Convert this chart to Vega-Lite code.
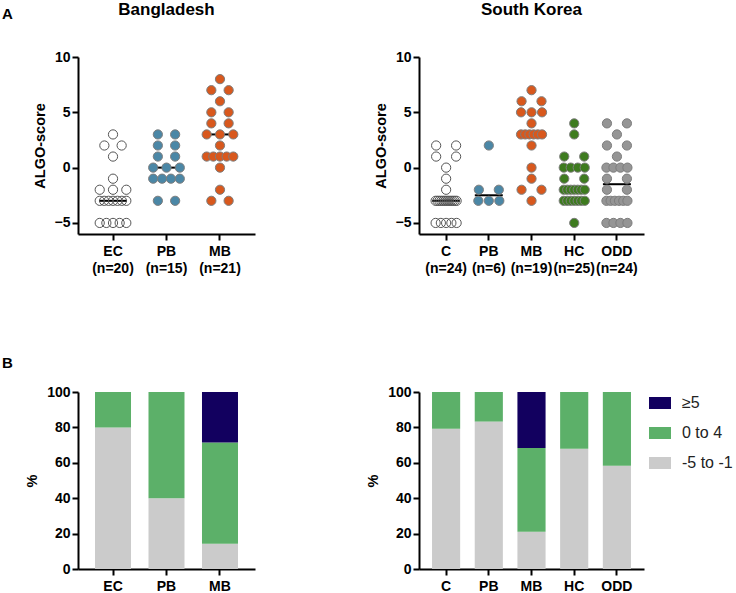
{
"$schema": "https://vega.github.io/schema/vega-lite/v6.json",
"padding": {"left": 1, "top": 1, "right": 0, "bottom": 0},
"title": {"text": "A", "anchor": "start", "frame": "bounds", "offset": -21, "baseline": "top", "fontSize": 15, "fontWeight": "bold", "color": "black"},
"datasets": {
"dots": [
{"country":"Bangladesh","group":"EC","xlab":"EC|(n=20)","score":3,"slot":0},
{"country":"Bangladesh","group":"EC","xlab":"EC|(n=20)","score":2,"slot":-0.65},
{"country":"Bangladesh","group":"EC","xlab":"EC|(n=20)","score":2,"slot":0.65},
{"country":"Bangladesh","group":"EC","xlab":"EC|(n=20)","score":1,"slot":0},
{"country":"Bangladesh","group":"EC","xlab":"EC|(n=20)","score":-1,"slot":0},
{"country":"Bangladesh","group":"EC","xlab":"EC|(n=20)","score":-2,"slot":-1},
{"country":"Bangladesh","group":"EC","xlab":"EC|(n=20)","score":-2,"slot":0},
{"country":"Bangladesh","group":"EC","xlab":"EC|(n=20)","score":-2,"slot":1},
{"country":"Bangladesh","group":"EC","xlab":"EC|(n=20)","score":-3,"slot":-1},
{"country":"Bangladesh","group":"EC","xlab":"EC|(n=20)","score":-3,"slot":-0.667},
{"country":"Bangladesh","group":"EC","xlab":"EC|(n=20)","score":-3,"slot":-0.333},
{"country":"Bangladesh","group":"EC","xlab":"EC|(n=20)","score":-3,"slot":0},
{"country":"Bangladesh","group":"EC","xlab":"EC|(n=20)","score":-3,"slot":0.333},
{"country":"Bangladesh","group":"EC","xlab":"EC|(n=20)","score":-3,"slot":0.667},
{"country":"Bangladesh","group":"EC","xlab":"EC|(n=20)","score":-3,"slot":1},
{"country":"Bangladesh","group":"EC","xlab":"EC|(n=20)","score":-5,"slot":-1},
{"country":"Bangladesh","group":"EC","xlab":"EC|(n=20)","score":-5,"slot":-0.5},
{"country":"Bangladesh","group":"EC","xlab":"EC|(n=20)","score":-5,"slot":0},
{"country":"Bangladesh","group":"EC","xlab":"EC|(n=20)","score":-5,"slot":0.5},
{"country":"Bangladesh","group":"EC","xlab":"EC|(n=20)","score":-5,"slot":1},
{"country":"Bangladesh","group":"PB","xlab":"PB|(n=15)","score":3,"slot":-0.65},
{"country":"Bangladesh","group":"PB","xlab":"PB|(n=15)","score":3,"slot":0.65},
{"country":"Bangladesh","group":"PB","xlab":"PB|(n=15)","score":2,"slot":-0.65},
{"country":"Bangladesh","group":"PB","xlab":"PB|(n=15)","score":2,"slot":0.65},
{"country":"Bangladesh","group":"PB","xlab":"PB|(n=15)","score":1,"slot":-0.65},
{"country":"Bangladesh","group":"PB","xlab":"PB|(n=15)","score":1,"slot":0.65},
{"country":"Bangladesh","group":"PB","xlab":"PB|(n=15)","score":0,"slot":-1},
{"country":"Bangladesh","group":"PB","xlab":"PB|(n=15)","score":0,"slot":0},
{"country":"Bangladesh","group":"PB","xlab":"PB|(n=15)","score":0,"slot":1},
{"country":"Bangladesh","group":"PB","xlab":"PB|(n=15)","score":-1,"slot":-1},
{"country":"Bangladesh","group":"PB","xlab":"PB|(n=15)","score":-1,"slot":-0.333},
{"country":"Bangladesh","group":"PB","xlab":"PB|(n=15)","score":-1,"slot":0.333},
{"country":"Bangladesh","group":"PB","xlab":"PB|(n=15)","score":-1,"slot":1},
{"country":"Bangladesh","group":"PB","xlab":"PB|(n=15)","score":-3,"slot":-0.65},
{"country":"Bangladesh","group":"PB","xlab":"PB|(n=15)","score":-3,"slot":0.65},
{"country":"Bangladesh","group":"MB","xlab":"MB|(n=21)","score":8,"slot":0},
{"country":"Bangladesh","group":"MB","xlab":"MB|(n=21)","score":7,"slot":-0.65},
{"country":"Bangladesh","group":"MB","xlab":"MB|(n=21)","score":7,"slot":0.65},
{"country":"Bangladesh","group":"MB","xlab":"MB|(n=21)","score":6,"slot":0},
{"country":"Bangladesh","group":"MB","xlab":"MB|(n=21)","score":5,"slot":-0.65},
{"country":"Bangladesh","group":"MB","xlab":"MB|(n=21)","score":5,"slot":0.65},
{"country":"Bangladesh","group":"MB","xlab":"MB|(n=21)","score":4,"slot":-0.65},
{"country":"Bangladesh","group":"MB","xlab":"MB|(n=21)","score":4,"slot":0.65},
{"country":"Bangladesh","group":"MB","xlab":"MB|(n=21)","score":3,"slot":-1},
{"country":"Bangladesh","group":"MB","xlab":"MB|(n=21)","score":3,"slot":0},
{"country":"Bangladesh","group":"MB","xlab":"MB|(n=21)","score":3,"slot":1},
{"country":"Bangladesh","group":"MB","xlab":"MB|(n=21)","score":2,"slot":0},
{"country":"Bangladesh","group":"MB","xlab":"MB|(n=21)","score":1,"slot":-1},
{"country":"Bangladesh","group":"MB","xlab":"MB|(n=21)","score":1,"slot":-0.5},
{"country":"Bangladesh","group":"MB","xlab":"MB|(n=21)","score":1,"slot":0},
{"country":"Bangladesh","group":"MB","xlab":"MB|(n=21)","score":1,"slot":0.5},
{"country":"Bangladesh","group":"MB","xlab":"MB|(n=21)","score":1,"slot":1},
{"country":"Bangladesh","group":"MB","xlab":"MB|(n=21)","score":0,"slot":0},
{"country":"Bangladesh","group":"MB","xlab":"MB|(n=21)","score":-2,"slot":0},
{"country":"Bangladesh","group":"MB","xlab":"MB|(n=21)","score":-3,"slot":-0.65},
{"country":"Bangladesh","group":"MB","xlab":"MB|(n=21)","score":-3,"slot":0.65},
{"country":"South Korea","group":"C","xlab":"C|(n=24)","score":2,"slot":-0.95},
{"country":"South Korea","group":"C","xlab":"C|(n=24)","score":2,"slot":0.95},
{"country":"South Korea","group":"C","xlab":"C|(n=24)","score":1,"slot":-0.95},
{"country":"South Korea","group":"C","xlab":"C|(n=24)","score":1,"slot":0.95},
{"country":"South Korea","group":"C","xlab":"C|(n=24)","score":0,"slot":0},
{"country":"South Korea","group":"C","xlab":"C|(n=24)","score":-1,"slot":0},
{"country":"South Korea","group":"C","xlab":"C|(n=24)","score":-2,"slot":0},
{"country":"South Korea","group":"C","xlab":"C|(n=24)","score":-3,"slot":-1},
{"country":"South Korea","group":"C","xlab":"C|(n=24)","score":-3,"slot":-0.818},
{"country":"South Korea","group":"C","xlab":"C|(n=24)","score":-3,"slot":-0.636},
{"country":"South Korea","group":"C","xlab":"C|(n=24)","score":-3,"slot":-0.455},
{"country":"South Korea","group":"C","xlab":"C|(n=24)","score":-3,"slot":-0.273},
{"country":"South Korea","group":"C","xlab":"C|(n=24)","score":-3,"slot":-0.091},
{"country":"South Korea","group":"C","xlab":"C|(n=24)","score":-3,"slot":0.091},
{"country":"South Korea","group":"C","xlab":"C|(n=24)","score":-3,"slot":0.273},
{"country":"South Korea","group":"C","xlab":"C|(n=24)","score":-3,"slot":0.455},
{"country":"South Korea","group":"C","xlab":"C|(n=24)","score":-3,"slot":0.636},
{"country":"South Korea","group":"C","xlab":"C|(n=24)","score":-3,"slot":0.818},
{"country":"South Korea","group":"C","xlab":"C|(n=24)","score":-3,"slot":1},
{"country":"South Korea","group":"C","xlab":"C|(n=24)","score":-5,"slot":-1},
{"country":"South Korea","group":"C","xlab":"C|(n=24)","score":-5,"slot":-0.5},
{"country":"South Korea","group":"C","xlab":"C|(n=24)","score":-5,"slot":0},
{"country":"South Korea","group":"C","xlab":"C|(n=24)","score":-5,"slot":0.5},
{"country":"South Korea","group":"C","xlab":"C|(n=24)","score":-5,"slot":1},
{"country":"South Korea","group":"PB","xlab":"PB|(n=6)","score":2,"slot":0},
{"country":"South Korea","group":"PB","xlab":"PB|(n=6)","score":-2,"slot":-0.95},
{"country":"South Korea","group":"PB","xlab":"PB|(n=6)","score":-2,"slot":0.95},
{"country":"South Korea","group":"PB","xlab":"PB|(n=6)","score":-3,"slot":-1},
{"country":"South Korea","group":"PB","xlab":"PB|(n=6)","score":-3,"slot":0},
{"country":"South Korea","group":"PB","xlab":"PB|(n=6)","score":-3,"slot":1},
{"country":"South Korea","group":"MB","xlab":"MB|(n=19)","score":7,"slot":0},
{"country":"South Korea","group":"MB","xlab":"MB|(n=19)","score":6,"slot":-0.95},
{"country":"South Korea","group":"MB","xlab":"MB|(n=19)","score":6,"slot":0.95},
{"country":"South Korea","group":"MB","xlab":"MB|(n=19)","score":5,"slot":-1},
{"country":"South Korea","group":"MB","xlab":"MB|(n=19)","score":5,"slot":0},
{"country":"South Korea","group":"MB","xlab":"MB|(n=19)","score":5,"slot":1},
{"country":"South Korea","group":"MB","xlab":"MB|(n=19)","score":4,"slot":0},
{"country":"South Korea","group":"MB","xlab":"MB|(n=19)","score":3,"slot":-1},
{"country":"South Korea","group":"MB","xlab":"MB|(n=19)","score":3,"slot":-0.6},
{"country":"South Korea","group":"MB","xlab":"MB|(n=19)","score":3,"slot":-0.2},
{"country":"South Korea","group":"MB","xlab":"MB|(n=19)","score":3,"slot":0.2},
{"country":"South Korea","group":"MB","xlab":"MB|(n=19)","score":3,"slot":0.6},
{"country":"South Korea","group":"MB","xlab":"MB|(n=19)","score":3,"slot":1},
{"country":"South Korea","group":"MB","xlab":"MB|(n=19)","score":2,"slot":0},
{"country":"South Korea","group":"MB","xlab":"MB|(n=19)","score":0,"slot":0},
{"country":"South Korea","group":"MB","xlab":"MB|(n=19)","score":-1,"slot":0},
{"country":"South Korea","group":"MB","xlab":"MB|(n=19)","score":-2,"slot":-0.95},
{"country":"South Korea","group":"MB","xlab":"MB|(n=19)","score":-2,"slot":0.95},
{"country":"South Korea","group":"MB","xlab":"MB|(n=19)","score":-3,"slot":0},
{"country":"South Korea","group":"HC","xlab":"HC|(n=25)","score":4,"slot":0},
{"country":"South Korea","group":"HC","xlab":"HC|(n=25)","score":3,"slot":0},
{"country":"South Korea","group":"HC","xlab":"HC|(n=25)","score":1,"slot":-0.95},
{"country":"South Korea","group":"HC","xlab":"HC|(n=25)","score":1,"slot":0.95},
{"country":"South Korea","group":"HC","xlab":"HC|(n=25)","score":0,"slot":-1},
{"country":"South Korea","group":"HC","xlab":"HC|(n=25)","score":0,"slot":-0.333},
{"country":"South Korea","group":"HC","xlab":"HC|(n=25)","score":0,"slot":0.333},
{"country":"South Korea","group":"HC","xlab":"HC|(n=25)","score":0,"slot":1},
{"country":"South Korea","group":"HC","xlab":"HC|(n=25)","score":-1,"slot":-0.95},
{"country":"South Korea","group":"HC","xlab":"HC|(n=25)","score":-1,"slot":0.95},
{"country":"South Korea","group":"HC","xlab":"HC|(n=25)","score":-2,"slot":-1},
{"country":"South Korea","group":"HC","xlab":"HC|(n=25)","score":-2,"slot":-0.667},
{"country":"South Korea","group":"HC","xlab":"HC|(n=25)","score":-2,"slot":-0.333},
{"country":"South Korea","group":"HC","xlab":"HC|(n=25)","score":-2,"slot":0},
{"country":"South Korea","group":"HC","xlab":"HC|(n=25)","score":-2,"slot":0.333},
{"country":"South Korea","group":"HC","xlab":"HC|(n=25)","score":-2,"slot":0.667},
{"country":"South Korea","group":"HC","xlab":"HC|(n=25)","score":-2,"slot":1},
{"country":"South Korea","group":"HC","xlab":"HC|(n=25)","score":-3,"slot":-1},
{"country":"South Korea","group":"HC","xlab":"HC|(n=25)","score":-3,"slot":-0.667},
{"country":"South Korea","group":"HC","xlab":"HC|(n=25)","score":-3,"slot":-0.333},
{"country":"South Korea","group":"HC","xlab":"HC|(n=25)","score":-3,"slot":0},
{"country":"South Korea","group":"HC","xlab":"HC|(n=25)","score":-3,"slot":0.333},
{"country":"South Korea","group":"HC","xlab":"HC|(n=25)","score":-3,"slot":0.667},
{"country":"South Korea","group":"HC","xlab":"HC|(n=25)","score":-3,"slot":1},
{"country":"South Korea","group":"HC","xlab":"HC|(n=25)","score":-5,"slot":0},
{"country":"South Korea","group":"ODD","xlab":"ODD|(n=24)","score":4,"slot":-0.95},
{"country":"South Korea","group":"ODD","xlab":"ODD|(n=24)","score":4,"slot":0.95},
{"country":"South Korea","group":"ODD","xlab":"ODD|(n=24)","score":3,"slot":0},
{"country":"South Korea","group":"ODD","xlab":"ODD|(n=24)","score":2,"slot":-0.95},
{"country":"South Korea","group":"ODD","xlab":"ODD|(n=24)","score":2,"slot":0.95},
{"country":"South Korea","group":"ODD","xlab":"ODD|(n=24)","score":1,"slot":0},
{"country":"South Korea","group":"ODD","xlab":"ODD|(n=24)","score":0,"slot":-1},
{"country":"South Korea","group":"ODD","xlab":"ODD|(n=24)","score":0,"slot":-0.333},
{"country":"South Korea","group":"ODD","xlab":"ODD|(n=24)","score":0,"slot":0.333},
{"country":"South Korea","group":"ODD","xlab":"ODD|(n=24)","score":0,"slot":1},
{"country":"South Korea","group":"ODD","xlab":"ODD|(n=24)","score":-1,"slot":-0.95},
{"country":"South Korea","group":"ODD","xlab":"ODD|(n=24)","score":-1,"slot":0.95},
{"country":"South Korea","group":"ODD","xlab":"ODD|(n=24)","score":-2,"slot":-0.95},
{"country":"South Korea","group":"ODD","xlab":"ODD|(n=24)","score":-2,"slot":0.95},
{"country":"South Korea","group":"ODD","xlab":"ODD|(n=24)","score":-3,"slot":-1},
{"country":"South Korea","group":"ODD","xlab":"ODD|(n=24)","score":-3,"slot":-0.6},
{"country":"South Korea","group":"ODD","xlab":"ODD|(n=24)","score":-3,"slot":-0.2},
{"country":"South Korea","group":"ODD","xlab":"ODD|(n=24)","score":-3,"slot":0.2},
{"country":"South Korea","group":"ODD","xlab":"ODD|(n=24)","score":-3,"slot":0.6},
{"country":"South Korea","group":"ODD","xlab":"ODD|(n=24)","score":-3,"slot":1},
{"country":"South Korea","group":"ODD","xlab":"ODD|(n=24)","score":-5,"slot":-1},
{"country":"South Korea","group":"ODD","xlab":"ODD|(n=24)","score":-5,"slot":-0.333},
{"country":"South Korea","group":"ODD","xlab":"ODD|(n=24)","score":-5,"slot":0.333},
{"country":"South Korea","group":"ODD","xlab":"ODD|(n=24)","score":-5,"slot":1}
],
"bars": [
{"country":"Bangladesh","group":"EC","level":"-5 to -1","pct":80},
{"country":"Bangladesh","group":"EC","level":"0 to 4","pct":20},
{"country":"Bangladesh","group":"PB","level":"-5 to -1","pct":40},
{"country":"Bangladesh","group":"PB","level":"0 to 4","pct":60},
{"country":"Bangladesh","group":"MB","level":"-5 to -1","pct":14.3},
{"country":"Bangladesh","group":"MB","level":"0 to 4","pct":57.1},
{"country":"Bangladesh","group":"MB","level":"≥5","pct":28.6},
{"country":"South Korea","group":"C","level":"-5 to -1","pct":79.2},
{"country":"South Korea","group":"C","level":"0 to 4","pct":20.8},
{"country":"South Korea","group":"PB","level":"-5 to -1","pct":83.3},
{"country":"South Korea","group":"PB","level":"0 to 4","pct":16.7},
{"country":"South Korea","group":"MB","level":"-5 to -1","pct":21.05},
{"country":"South Korea","group":"MB","level":"0 to 4","pct":47.37},
{"country":"South Korea","group":"MB","level":"≥5","pct":31.58},
{"country":"South Korea","group":"HC","level":"-5 to -1","pct":68},
{"country":"South Korea","group":"HC","level":"0 to 4","pct":32},
{"country":"South Korea","group":"ODD","level":"-5 to -1","pct":58.3},
{"country":"South Korea","group":"ODD","level":"0 to 4","pct":41.7}
]
},
"columns": 2,
"spacing": {"column": 110, "row": 81},
"resolve": {"scale": {"x": "independent", "y": "independent", "xOffset": "independent", "color": "independent"}, "axis": {"x": "independent", "y": "independent"}, "legend": {"color": "independent"}},
"concat": [
{
"width": 177, "height": 177,
"title": {"text": "Bangladesh", "anchor": "middle", "frame": "group", "offset": 31},
"data": {"name": "dots"},
"transform": [{"filter": "datum.country === 'Bangladesh'"}],
"layer": [
{"mark": {"type": "tick", "color": "black", "thickness": 2, "size": 28},
"encoding": {
"x": {"field": "xlab", "type": "nominal", "sort": null, "scale": {"domain": ["EC|(n=20)", "PB|(n=15)", "MB|(n=21)"], "paddingInner": 0.327, "paddingOuter": 0.318}, "axis": {"labelExpr": "split(datum.value, '|')", "labelLineHeight": 17, "title": null}},
"y": {"aggregate": "median", "field": "score", "type": "quantitative", "scale": {"domain": [-6, 10], "nice": false, "zero": false}, "axis": {"values": [-5, 0, 5, 10], "title": "ALGO-score"}}}},
{"mark": {"type": "point", "shape": "circle", "size": 85, "strokeWidth": 1, "opacity": 1},
"encoding": {
"x": {"field": "xlab", "type": "nominal", "sort": null, "axis": {"labelExpr": "split(datum.value, '|')", "labelLineHeight": 17, "title": null}},
"xOffset": {"field": "slot", "type": "quantitative", "scale": {"domain": [-1, 1], "range": [4.7, 31.3]}},
"y": {"field": "score", "type": "quantitative", "axis": {"values": [-5, 0, 5, 10], "title": "ALGO-score"}},
"fill": {"field": "group", "type": "nominal", "legend": null, "scale": {"domain": ["EC", "C", "PB", "MB", "HC", "ODD"], "range": ["transparent", "transparent", "#4b87a6", "#d8581d", "#3e7b1f", "#959595"]}},
"stroke": {"field": "group", "type": "nominal", "legend": null, "scale": {"domain": ["EC", "C", "PB", "MB", "HC", "ODD"], "range": ["#555555", "#555555", "#7d7d7d", "#7d7d7d", "#7d7d7d", "#7d7d7d"]}}}}
]
},
{
"width": 225, "height": 177,
"title": {"text": "South Korea", "anchor": "middle", "frame": "group", "offset": 31},
"data": {"name": "dots"},
"transform": [{"filter": "datum.country === 'South Korea'"}],
"layer": [
{"mark": {"type": "tick", "color": "black", "thickness": 2, "size": 28},
"encoding": {
"x": {"field": "xlab", "type": "nominal", "sort": null, "scale": {"domain": ["C|(n=24)", "PB|(n=6)", "MB|(n=19)", "HC|(n=25)", "ODD|(n=24)"], "paddingInner": 0.341, "paddingOuter": 0.305}, "axis": {"labelExpr": "split(datum.value, '|')", "labelLineHeight": 17, "title": null}},
"y": {"aggregate": "median", "field": "score", "type": "quantitative", "scale": {"domain": [-6, 10], "nice": false, "zero": false}, "axis": {"values": [-5, 0, 5, 10], "title": "ALGO-score"}}}},
{"mark": {"type": "point", "shape": "circle", "size": 85, "strokeWidth": 1, "opacity": 1},
"encoding": {
"x": {"field": "xlab", "type": "nominal", "sort": null, "axis": {"labelExpr": "split(datum.value, '|')", "labelLineHeight": 17, "title": null}},
"xOffset": {"field": "slot", "type": "quantitative", "scale": {"domain": [-1, 1], "range": [3.6, 24.6]}},
"y": {"field": "score", "type": "quantitative", "axis": {"values": [-5, 0, 5, 10], "title": "ALGO-score"}},
"fill": {"field": "group", "type": "nominal", "legend": null, "scale": {"domain": ["EC", "C", "PB", "MB", "HC", "ODD"], "range": ["transparent", "transparent", "#4b87a6", "#d8581d", "#3e7b1f", "#959595"]}},
"stroke": {"field": "group", "type": "nominal", "legend": null, "scale": {"domain": ["EC", "C", "PB", "MB", "HC", "ODD"], "range": ["#555555", "#555555", "#7d7d7d", "#7d7d7d", "#7d7d7d", "#7d7d7d"]}}}}
]
},
{
"width": 177, "height": 177,
"title": {"text": "B", "orient": "left", "anchor": "end", "angle": 0, "align": "right", "baseline": "alphabetic", "dy": -17, "offset": 1, "fontSize": 15},
"data": {"name": "bars"},
"transform": [{"filter": "datum.country === 'Bangladesh'"}],
"mark": {"type": "bar", "width": {"band": 1}},
"encoding": {
"x": {"field": "group", "type": "nominal", "sort": null, "scale": {"domain": ["EC", "PB", "MB"], "paddingInner": 0.327, "paddingOuter": 0.318}, "axis": {"title": null}},
"y": {"field": "pct", "type": "quantitative", "stack": "zero", "scale": {"domain": [0, 100], "nice": false}, "axis": {"values": [0, 20, 40, 60, 80, 100], "title": "%"}},
"color": {"field": "level", "type": "nominal", "legend": null, "scale": {"domain": ["≥5", "0 to 4", "-5 to -1"], "range": ["#12005f", "#5cb069", "#cbcbcb"]}},
"order": {"field": "level", "sort": "ascending"}}
},
{
"width": 225, "height": 177,
"data": {"name": "bars"},
"transform": [{"filter": "datum.country === 'South Korea'"}],
"mark": {"type": "bar", "width": {"band": 1}},
"encoding": {
"x": {"field": "group", "type": "nominal", "sort": null, "scale": {"domain": ["C", "PB", "MB", "HC", "ODD"], "paddingInner": 0.341, "paddingOuter": 0.305}, "axis": {"title": null}},
"y": {"field": "pct", "type": "quantitative", "stack": "zero", "scale": {"domain": [0, 100], "nice": false}, "axis": {"values": [0, 20, 40, 60, 80, 100], "title": "%"}},
"color": {"field": "level", "type": "nominal", "scale": {"domain": ["≥5", "0 to 4", "-5 to -1"], "range": ["#12005f", "#5cb069", "#cbcbcb"]},
"legend": {"title": null, "orient": "right", "offset": 5, "padding": 0, "symbolType": "M-1,-0.545H1V0.545H-1Z", "symbolSize": 484, "symbolStrokeWidth": 0, "labelFontSize": 16, "labelFontWeight": "normal", "labelColor": "#222222", "labelOffset": 11, "rowPadding": 11}},
"order": {"field": "level", "sort": "ascending"}}
}
],
"config": {
"font": "Liberation Sans",
"view": {"stroke": null},
"axis": {"domainColor": "black", "domainWidth": 2, "tickColor": "black", "tickWidth": 2, "tickSize": 6, "labelFont": "Liberation Sans", "labelFontSize": 14, "labelFontWeight": "bold", "labelColor": "black", "labelPadding": 2, "titleFont": "Liberation Sans", "titleFontSize": 14.5, "titleFontWeight": "bold", "titleColor": "black", "titlePadding": 7, "grid": false},
"axisX": {"labelAngle": 0, "labelPadding": 4},
"title": {"font": "Liberation Sans", "fontSize": 17, "fontWeight": "bold", "color": "black"},
"legend": {"labelFont": "Liberation Sans"}
}
}
